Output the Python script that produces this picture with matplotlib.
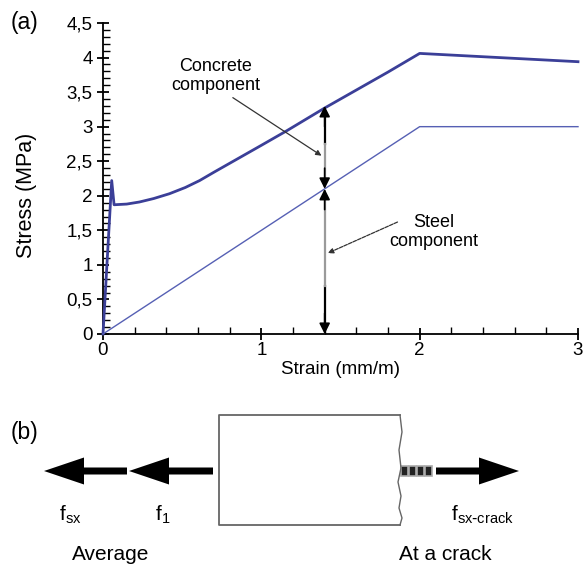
import numpy as np
import matplotlib
matplotlib.use("Agg")
import matplotlib.pyplot as plt
from matplotlib.patches import FancyArrow, Rectangle

# stress-strain data
total_strain = [0, 0.055, 0.07, 0.15, 0.23, 0.32, 0.42, 0.52, 0.61, 0.7, 0.8, 1.0, 1.16,
                1.4, 1.6, 1.8, 2.0, 2.5, 3.0]
total_stress = [0, 2.22, 1.87, 1.88, 1.91, 1.96, 2.03, 2.12, 2.22, 2.34, 2.47, 2.73, 2.94,
                3.27, 3.53, 3.79, 4.06, 4.0, 3.94]
steel_strain = [0, 2.0, 3.0]
steel_stress = [0, 3.0, 3.0]

y_ticks = [0, 0.5, 1, 1.5, 2, 2.5, 3, 3.5, 4, 4.5]
y_labels = ["0", "0,5", "1", "1,5", "2", "2,5", "3", "3,5", "4", "4,5"]
x_ticks = [0, 1, 2, 3]

x_split = 1.4          # strain where the components are marked
steel_at_split = 2.1
total_at_split = 3.3

plt.rcParams['font.family'] = ['Liberation Sans', 'DejaVu Sans']

fig = plt.figure(figsize=(5.88, 5.67), dpi=100)
ax = fig.add_axes([103 / 588, 1 - 334 / 567, 475 / 588, 311 / 567])

ax.plot(total_strain, total_stress, color='#3b3f98', lw=2.0, zorder=3, clip_on=False)
ax.plot(steel_strain, steel_stress, color='#5660b4', lw=1.0, zorder=3, clip_on=False)

ax.set_xlim(0, 3)
ax.set_ylim(0, 4.5)
ax.set_xticks(x_ticks)
ax.set_xticks(np.arange(0, 3.01, 0.2), minor=True)
ax.set_yticks(y_ticks)
ax.set_yticklabels(y_labels)
ax.set_yticks(np.arange(0, 4.51, 0.1), minor=True)
ax.tick_params(axis='both', which='major', direction='inout', length=9, width=1.3, labelsize=13.5)
ax.tick_params(axis='y', which='minor', direction='in', length=5, width=1.0)
ax.tick_params(axis='x', which='minor', direction='in', length=5, width=1.0)
ax.tick_params(axis='x', which='major', pad=1)
ax.tick_params(axis='y', which='major', pad=3)
for side in ['top', 'right']:
    ax.spines[side].set_visible(False)
for side in ['left', 'bottom']:
    ax.spines[side].set_linewidth(1.3)

ax.set_xlabel("Strain (mm/m)", fontsize=13.5, labelpad=2)
ax.set_ylabel("Stress (MPa)", fontsize=15.5)
ax.yaxis.set_label_coords(-0.138, 0.447)

# component double arrows
ax.plot([x_split, x_split], [0.12, 0.7], color='black', lw=1.6, zorder=4)
ax.plot([x_split, x_split], [0.7, 2.0], color='#9a9a9a', lw=1.6, zorder=4)
ax.plot([x_split, x_split], [2.75, 3.2], color='black', lw=1.6, zorder=4)
ax.plot([x_split, x_split], [2.2, 2.75], color='#9a9a9a', lw=1.6, zorder=4)
for y_tip, y_from in [(0, 0.3), (steel_at_split, steel_at_split - 0.3),
                      (steel_at_split, steel_at_split + 0.3), (total_at_split, total_at_split - 0.3)]:
    ax.annotate('', xy=(x_split, y_tip), xytext=(x_split, y_from),
                arrowprops=dict(arrowstyle='-|>', color='black', lw=1.2, mutation_scale=16,
                                shrinkA=0, shrinkB=0), zorder=5)

ax.annotate('', xy=(x_split - 0.02, 2.58), xytext=(0.82, 3.42),
            arrowprops=dict(arrowstyle='-|>', color='#333333', lw=0.9, mutation_scale=8,
                            shrinkA=0, shrinkB=0))
ax.text(0.71, 3.73, "Concrete\ncomponent", ha='center', va='center', fontsize=13, linespacing=1.15)
ax.annotate('', xy=(x_split + 0.02, 1.17), xytext=(1.86, 1.62),
            arrowprops=dict(arrowstyle='-|>', color='#333333', lw=0.9, ls=(0, (3, 1)),
                            mutation_scale=8, shrinkA=0, shrinkB=0))
ax.text(2.09, 1.47, "Steel\ncomponent", ha='center', va='center', fontsize=13, linespacing=1.15)

# panel (b): sketch in pixel coordinates
ov = fig.add_axes([0, 0, 1, 1], zorder=-1)
ov.set_xlim(0, 588)
ov.set_ylim(567, 0)
ov.axis('off')

fig.text(25 / 588, 1 - 22 / 567, "(a)", fontsize=16.5, ha='center', va='center')
fig.text(25 / 588, 1 - 432 / 567, "(b)", fontsize=16.5, ha='center', va='center')

ov.plot([400, 219, 219, 400], [415, 415, 525, 525], color='#666666', lw=1.3)
ov.plot([400, 402, 399, 401, 398, 401, 399, 402, 400],
        [415, 432, 450, 468, 482, 496, 508, 518, 525], color='#666666', lw=1.0)

arr = dict(width=7, head_width=27, head_length=40, length_includes_head=True,
           color='black', lw=0)
ov.add_patch(FancyArrow(127, 471, -83, 0, **arr))
ov.add_patch(FancyArrow(213, 471, -84, 0, **arr))
ov.add_patch(FancyArrow(436, 471, 83, 0, **arr))
for x0 in [401, 409, 417, 425]:
    ov.add_patch(Rectangle((x0, 466), 7, 10, facecolor='#222222', edgecolor='#aaaaaa', lw=1.2))

ov.text(70, 520, r"f$_{\mathregular{sx}}$", fontsize=15, ha='center', va='baseline')
ov.text(163, 520, r"f$_{\mathregular{1}}$", fontsize=15, ha='center', va='baseline')
ov.text(451, 520, r"f$_{\mathregular{sx\text{-}crack}}$", fontsize=15, ha='left', va='baseline')
ov.text(111, 555, "Average", fontsize=15, ha='center', va='center')
ov.text(445, 555, "At a crack", fontsize=15, ha='center', va='center')

fig.savefig("out.png", dpi=100)
